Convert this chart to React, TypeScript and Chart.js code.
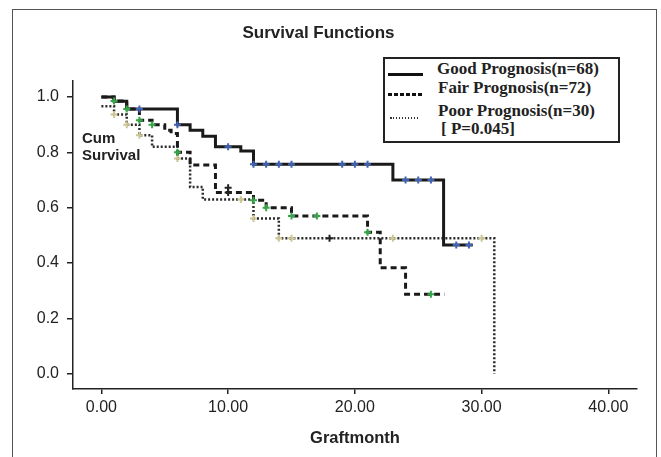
import React, { useEffect, useRef } from "react";
import { Chart, registerables } from "chart.js";

Chart.register(...registerables);

// Kaplan-Meier step data (time in months, cumulative survival)
const goodTimes = [0, 1, 2, 6, 7, 8, 9, 11, 12, 23, 27, 29.3];
const goodSurv = [1.0, 0.985, 0.957, 0.9, 0.88, 0.858, 0.82, 0.805, 0.757, 0.7, 0.465, 0.465];

const fairTimes = [0, 1, 2, 3, 4, 5, 5.5, 6, 7, 9, 12, 13, 15, 21, 22, 24, 27.06];
const fairSurv = [1.0, 0.986, 0.957, 0.916, 0.9, 0.88, 0.868, 0.8, 0.754, 0.655, 0.627, 0.6, 0.57, 0.511, 0.383, 0.287, 0.287];

const poorTimes = [0, 1, 2, 3, 4, 6, 7, 8, 12, 14, 31];
const poorSurv = [0.967, 0.937, 0.9, 0.862, 0.82, 0.778, 0.675, 0.63, 0.561, 0.49, 0.0];

// Censored observations
const goodCensorTimes = [3, 6, 10, 12, 13, 14, 15, 19, 20, 21, 24, 25, 26, 28, 29];
const goodCensorSurv = [0.957, 0.9, 0.82, 0.757, 0.757, 0.757, 0.757, 0.757, 0.757, 0.757, 0.7, 0.7, 0.7, 0.465, 0.465];

const fairCensorTimes = [1, 2, 3, 4, 6, 12, 13, 15, 17, 21, 26];
const fairCensorSurv = [0.986, 0.957, 0.916, 0.9, 0.8, 0.627, 0.6, 0.57, 0.57, 0.511, 0.287];

const poorCensorTimes = [1, 2, 3, 6, 11, 12, 14, 15, 23, 30];
const poorCensorSurv = [0.937, 0.9, 0.862, 0.778, 0.63, 0.561, 0.49, 0.49, 0.49, 0.49];

const otherCensorTimes = [10, 10, 18];
const otherCensorSurv = [0.672, 0.655, 0.49];

const xTicks = [0, 10, 20, 30, 40];
const yTicks = [0, 0.2, 0.4, 0.6, 0.8, 1.0];

const legendLabels = ["Good Prognosis(n=68)", "Fair Prognosis(n=72)", "Poor Prognosis(n=30)"];
const pValueLabel = "[ P=0.045]";

const SANS = '"Liberation Sans", Arial, Helvetica, sans-serif';
const SERIF = '"Liberation Serif", "Times New Roman", Times, serif';

function pts(xs: number[], ys: number[]) {
  return xs.map((x, i) => ({ x, y: ys[i] }));
}

export default function App() {
  const ref = useRef<HTMLCanvasElement | null>(null);

  useEffect(() => {
    if (!ref.current) return;
    const lineBase = {
      showLine: true,
      stepped: "before" as const,
      pointRadius: 0,
      fill: false,
      borderCapStyle: "butt" as const,
      order: 2,
    };
    const crossBase = {
      showLine: false,
      pointStyle: "cross" as const,
      pointRadius: 3.5,
      pointBorderWidth: 2,
      order: 0,
    };
    const chart = new Chart(ref.current, {
      type: "scatter",
      data: {
        datasets: [
          {
            ...lineBase,
            label: legendLabels[0],
            data: pts(goodTimes, goodSurv),
            borderColor: "#1a1a1a",
            borderWidth: 3,
          },
          {
            ...lineBase,
            label: legendLabels[1],
            data: pts(fairTimes, fairSurv),
            borderColor: "#1a1a1a",
            borderWidth: 3,
            borderDash: [6, 4],
          },
          {
            ...lineBase,
            label: legendLabels[2],
            data: pts(poorTimes, poorSurv),
            borderColor: "#2a2a2a",
            borderWidth: 2.5,
            borderDash: [2, 2],
          },
          {
            ...crossBase,
            label: "good censored",
            data: pts(goodCensorTimes, goodCensorSurv),
            borderColor: "#3f63b5",
            backgroundColor: "#3f63b5",
          },
          {
            ...crossBase,
            label: "fair censored",
            data: pts(fairCensorTimes, fairCensorSurv),
            borderColor: "#34a847",
            backgroundColor: "#34a847",
          },
          {
            ...crossBase,
            label: "poor censored",
            data: pts(poorCensorTimes, poorCensorSurv),
            borderColor: "#cdc594",
            backgroundColor: "#cdc594",
          },
          {
            ...crossBase,
            label: "censored",
            data: pts(otherCensorTimes, otherCensorSurv),
            borderColor: "#222",
            backgroundColor: "#222",
          },
        ],
      },
      options: {
        responsive: false,
        animation: false,
        events: [],
        layout: { padding: { top: 0, right: 24, left: 0, bottom: 0 } },
        plugins: {
          legend: { display: false },
          tooltip: { enabled: false },
          title: {
            display: true,
            text: "Survival Functions",
            color: "#222",
            font: { family: SANS, size: 17, weight: "bold" },
            padding: { top: 23, bottom: 37 },
          },
        },
        scales: {
          x: {
            type: "linear",
            min: -2.24,
            max: 42.26,
            afterBuildTicks: (s: any) => {
              s.ticks = xTicks.map((v) => ({ value: v }));
            },
            afterFit: (s: any) => {
              s.height = 68;
            },
            ticks: {
              callback: (v: any) => Number(v).toFixed(2),
              font: { family: SANS, size: 16 },
              color: "#222",
              padding: 4,
              maxRotation: 0,
            },
            grid: {
              drawOnChartArea: false,
              drawTicks: true,
              tickLength: 5,
              color: "#222",
              lineWidth: 1.5,
            },
            border: { display: true, color: "#222", width: 1.5 },
            title: {
              display: true,
              text: "Graftmonth",
              color: "#222",
              font: { family: SANS, size: 16.5, weight: "bold" },
              padding: { top: 0, bottom: 9 },
            },
          },
          y: {
            type: "linear",
            min: -0.055,
            max: 1.06,
            afterBuildTicks: (s: any) => {
              s.ticks = yTicks.map((v) => ({ value: v }));
            },
            afterFit: (s: any) => {
              s.width = 73;
            },
            ticks: {
              callback: (v: any) => Number(v).toFixed(1),
              font: { family: SANS, size: 16 },
              color: "#222",
              padding: 8,
            },
            grid: {
              drawOnChartArea: false,
              drawTicks: true,
              tickLength: 6,
              color: "#222",
              lineWidth: 1.5,
            },
            border: { display: true, color: "#222", width: 1.5 },
          },
        },
      },
    });
    return () => chart.destroy();
  }, []);

  const textRow = (left: number, top: number, text: string) => (
    <div
      style={{
        position: "absolute",
        left,
        top,
        fontFamily: SERIF,
        fontWeight: "bold",
        fontSize: 17,
        lineHeight: "20px",
        color: "#222",
        whiteSpace: "nowrap",
      }}
    >
      {text}
    </div>
  );

  return (
    <div
      style={{
        position: "absolute",
        left: 0,
        top: 0,
        width: 661,
        height: 457,
        overflow: "hidden",
        background: "#fff",
      }}
    >
      <div
        style={{
          position: "absolute",
          left: 12,
          top: 9,
          width: 645,
          height: 470,
          border: "1.5px solid #555",
          borderBottom: "none",
          boxSizing: "border-box",
        }}
      />
      <canvas
        ref={ref}
        width={661}
        height={457}
        style={{ position: "absolute", left: 0, top: 0, width: 661, height: 457 }}
      />
      <div
        style={{
          position: "absolute",
          left: 82,
          top: 130,
          fontFamily: SANS,
          fontWeight: "bold",
          fontSize: 15,
          lineHeight: "16.7px",
          color: "#222",
        }}
      >
        Cum
        <br />
        Survival
      </div>
      <div
        style={{
          position: "absolute",
          left: 383,
          top: 57,
          width: 237,
          height: 86,
          border: "2px solid #222",
          boxSizing: "border-box",
          background: "#fff",
        }}
      />
      <div
        style={{
          position: "absolute",
          left: 388,
          top: 73,
          width: 35,
          height: 2.5,
          background: "#111",
        }}
      />
      <div
        style={{
          position: "absolute",
          left: 388,
          top: 93,
          width: 35,
          height: 2.5,
          background: "repeating-linear-gradient(to right, #111 0px, #111 4px, transparent 4px, transparent 6px)",
        }}
      />
      <div
        style={{
          position: "absolute",
          left: 390,
          top: 117,
          width: 30,
          height: 1.5,
          background: "repeating-linear-gradient(to right, #333 0px, #333 1.5px, transparent 1.5px, transparent 3px)",
        }}
      />
      {textRow(437, 58.5, legendLabels[0])}
      {textRow(438, 77.6, legendLabels[1])}
      {textRow(438, 101, legendLabels[2])}
      {textRow(441, 118.6, pValueLabel)}
    </div>
  );
}
